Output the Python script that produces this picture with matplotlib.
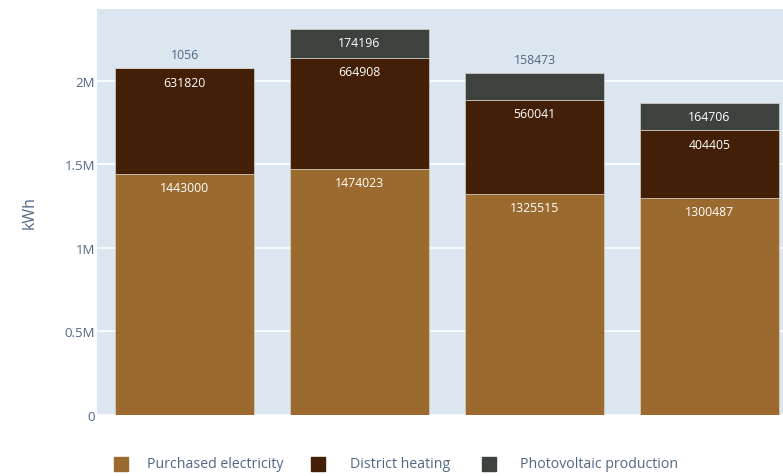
import matplotlib
matplotlib.use("Agg")
import matplotlib.pyplot as plt
from matplotlib.patches import Rectangle
from matplotlib.ticker import FuncFormatter

plt.rcParams['font.family'] = ['Open Sans', 'DejaVu Sans']

# yearly energy use per source, kWh
periods = ['P1', 'P2', 'P3', 'P4']
electricity = [1443000, 1474023, 1325515, 1300487]
heating = [631820, 664908, 560041, 404405]
photovoltaic = [1056, 174196, 158473, 164706]

series = [('Purchased electricity', electricity, '#9b6a2f'),
          ('District heating', heating, '#431f08'),
          ('Photovoltaic production', photovoltaic, '#3e423f')]

BG = '#dce6f1'
FONT_C = '#506784'
W, H = 783, 477

fig = plt.figure(figsize=(W / 100, H / 100), dpi=100)
# plot area runs past the right edge of the figure
ax = fig.add_axes([97 / W, 1 - 416 / H, 700 / W, 406 / H])
ax.set_facecolor(BG)
for s in ax.spines.values():
    s.set_visible(False)

x = range(len(periods))
bottom = [0] * len(periods)
min_inside = 160000  # smaller segments get their label above the bar
for name, vals, col in series:
    ax.bar(x, vals, 0.79, bottom=bottom, color=col, edgecolor='#d9d2c8',
           linewidth=0.5, zorder=3)
    for i, v in enumerate(vals):
        top = bottom[i] + v
        if v >= min_inside:
            ax.annotate(str(v), (i, top), xytext=(0, -10), textcoords='offset points',
                        ha='center', va='center', fontsize=8.8, color='white', zorder=4)
        else:
            ax.annotate(str(v), (i, top), xytext=(0, 10), textcoords='offset points',
                        ha='center', va='center', fontsize=8.8, color=FONT_C, zorder=4)
    bottom = [b + v for b, v in zip(bottom, vals)]

ax.set_xlim(-0.5, len(periods) - 0.5)
ax.set_ylim(0, 2.43e6)
ax.set_yticks([0, 0.5e6, 1e6, 1.5e6, 2e6])
ax.yaxis.set_major_formatter(FuncFormatter(lambda v, p: '0' if v == 0 else ('%gM' % (v / 1e6))))
ax.set_xticks([])
ax.tick_params(axis='y', length=0, pad=1.5, labelsize=9.5, labelcolor=FONT_C)
ax.grid(axis='y', color='white', linewidth=1.2, zorder=0)
ax.set_ylabel('kWh', color=FONT_C, fontsize=11.5, labelpad=19)

# legend row along the bottom
leg_y = 465
for (name, vals, col), mx, tx in zip(series, [121, 318, 489], [147, 350, 520]):
    fig.add_artist(Rectangle(((mx - 7) / W, 1 - (leg_y + 7) / H), 14 / W, 14 / H,
                             transform=fig.transFigure, color=col))
    fig.text(tx / W, 1 - leg_y / H, name, ha='left', va='center', fontsize=10.2, color=FONT_C)

fig.savefig('out.png', dpi=100)
